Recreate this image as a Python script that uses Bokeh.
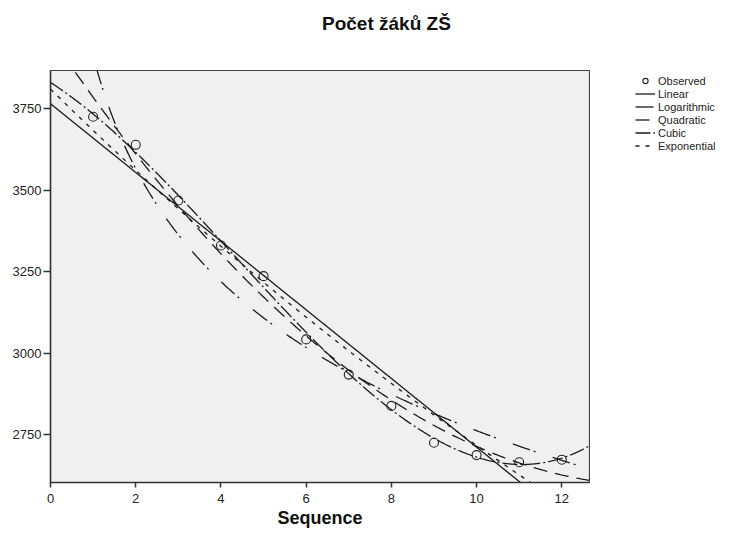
import numpy as np
from bokeh.plotting import figure
from bokeh.layouts import row, column
from bokeh.models import Legend, LegendItem, FixedTicker, Range1d, Div
from bokeh.embed import file_html
from bokeh.resources import INLINE

# ---- data ----
title_text = "Počet žáků ZŠ"
x_title = "Sequence"
sequence = [1, 2, 3, 4, 5, 6, 7, 8, 9, 10, 11, 12]
observed = [3725, 3639, 3468, 3330, 3236, 3042, 2934, 2838, 2725, 2687, 2665, 2673]
x_ticks = [0, 2, 4, 6, 8, 10, 12]
y_ticks = [2750, 3000, 3250, 3500, 3750]
model_names = ["Linear", "Logarithmic", "Quadratic", "Cubic", "Exponential"]
x_limits = (0, 12.65)
y_limits = (2603, 3867)

# ---- curve-estimation fits of the observed series ----
x = np.array(sequence, dtype=float)
y = np.array(observed, dtype=float)
grid = np.linspace(x_limits[0], x_limits[1], 500)
grid_log = np.linspace(0.3, x_limits[1], 500)

fits = {
    "Linear": (grid, np.polyval(np.polyfit(x, y, 1), grid)),
    "Logarithmic": (grid_log, np.polyval(np.polyfit(np.log(x), y, 1), np.log(grid_log))),
    "Quadratic": (grid, np.polyval(np.polyfit(x, y, 2), grid)),
    "Cubic": (grid, np.polyval(np.polyfit(x, y, 3), grid)),
    "Exponential": (grid, np.exp(np.polyval(np.polyfit(x, np.log(y), 1), grid))),
}
dashes = {
    "Linear": "solid",
    "Logarithmic": "18 4 2 18",
    "Quadratic": "14 8",
    "Cubic": "15 3 2 3",
    "Exponential": "4 6",
}

FONT = "Liberation Sans"
INK = "#1a1a1a"

# ---- title strip ----
title = Div(text=('<div style="position:absolute; left:322px; top:14px; white-space:nowrap; '
                  'font-family:\'Liberation Sans\'; font-size:19px; font-weight:bold; '
                  'line-height:1; color:#111111;">' + title_text + '</div>'),
            width=722, height=69, margin=0)

# ---- main plot ----
p = figure(frame_width=539, frame_height=412, output_backend="svg", toolbar_location=None,
           x_range=Range1d(*x_limits), y_range=Range1d(*y_limits),
           min_border_left=50, min_border_right=1, min_border_top=1, min_border_bottom=49)
p.background_fill_color = "#F0F0F0"
p.border_fill_color = "white"
p.outline_line_color = "#444444"
p.outline_line_width = 1.2
p.grid.visible = False

for ax in (p.xaxis[0], p.yaxis[0]):
    ax.minor_tick_line_color = None
    ax.major_tick_in = 0
    ax.axis_line_color = "#333333"
    ax.axis_line_width = 1.5
    ax.major_tick_line_color = "#333333"
    ax.major_tick_line_width = 1.5
    ax.major_label_text_font = FONT
    ax.major_label_text_font_size = "13px"
    ax.major_label_text_color = "#222222"
p.xaxis.ticker = FixedTicker(ticks=x_ticks)
p.yaxis.ticker = FixedTicker(ticks=y_ticks)
p.xaxis.major_tick_out = 5
p.xaxis.major_label_standoff = 6
p.yaxis.major_tick_out = 7
p.yaxis.major_label_standoff = 2
p.xaxis.axis_label = x_title
p.xaxis.axis_label_standoff = 2
p.xaxis.axis_label_text_font = FONT
p.xaxis.axis_label_text_font_size = "18px"
p.xaxis.axis_label_text_font_style = "bold"
p.xaxis.axis_label_text_color = "#111111"

p.scatter(sequence, observed, marker="circle", size=9, fill_color=None,
          line_color="#222222", line_width=1.1)
for name in model_names:
    gx, gy = fits[name]
    p.line(gx, gy, line_color=INK, line_width=1.3, line_dash=dashes[name])

# ---- legend panel to the right of the plot ----
# the same series are drawn here too, but this panel's ranges keep them out of view;
# they only supply the legend swatches
q = figure(width=132, height=462, output_backend="svg", toolbar_location=None,
           x_range=Range1d(-100, -99), y_range=Range1d(-100, -99),
           x_axis_type=None, y_axis_type=None, min_border=0)
q.outline_line_color = None
q.grid.visible = False
q.background_fill_color = "white"
q.border_fill_color = "white"

items = [LegendItem(label="Observed", renderers=[
    q.scatter(sequence, observed, marker="circle", size=8, fill_color=None,
              line_color="#222222", line_width=1.1)])]
for name in model_names:
    gx, gy = fits[name]
    items.append(LegendItem(label=name, renderers=[
        q.line(gx, gy, line_color=INK, line_width=1.3, line_dash=dashes[name])]))

legend = Legend(items=items, location=(41, 326), padding=4, spacing=0,
                label_height=13, glyph_height=13, glyph_width=20, label_standoff=3,
                label_text_font=FONT, label_text_font_size="11px", label_text_color="#222222",
                border_line_alpha=0, background_fill_alpha=0, margin=0)
q.add_layout(legend, "center")

layout = column(title, row(p, q, spacing=0), spacing=0)
open("out.html", "w").write(file_html(layout, INLINE))
